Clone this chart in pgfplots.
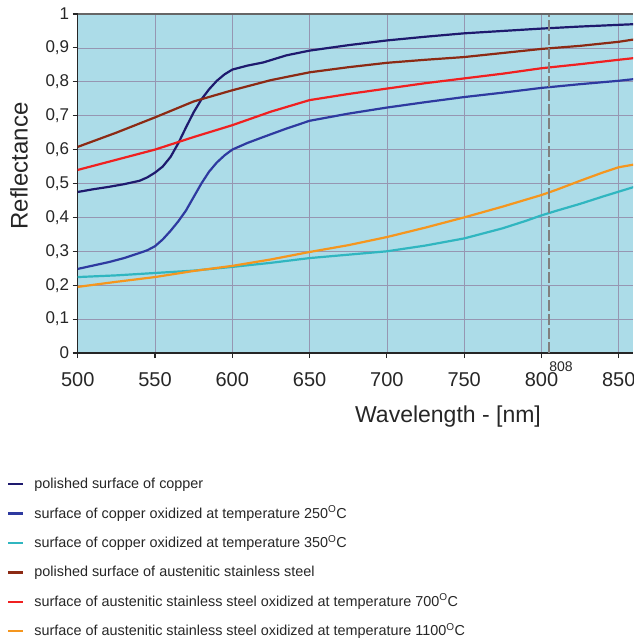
\documentclass[border=0pt]{standalone}
\usepackage{pgfplots}
\pgfplotsset{compat=1.18}
\usepackage{fontspec}
\setmainfont{Liberation Sans}
\definecolor{bgblue}{RGB}{172,220,232}
\definecolor{gridc}{RGB}{150,150,178}
\definecolor{cuA}{RGB}{30,26,110}
\definecolor{cuB}{RGB}{46,58,160}
\definecolor{cuC}{RGB}{48,182,192}
\definecolor{stA}{RGB}{140,42,20}
\definecolor{stB}{RGB}{240,32,32}
\definecolor{stC}{RGB}{245,150,30}
\begin{document}
\begin{tikzpicture}[x=1pt,y=1pt]
\useasboundingbox (0,0) rectangle (633,638);
\begin{axis}[
  at={(77.7pt,285pt)}, anchor=south west,
  width=555.3pt, height=339pt, scale only axis,
  xmin=500, xmax=859.2, ymin=0, ymax=1,
  axis background/.style={fill=bgblue},
  axis lines=left,
  axis line style={-, line width=1.4pt, black!85},
  xtick={500,550,...,850},
  ytick={0,0.1,...,1.0},
  grid=major,
  major grid style={gridc, line width=0.7pt},
  tick align=outside,
  major tick length=5pt,
  tick style={black!85, line width=1.1pt},
  /pgf/number format/assume math mode=true,
  xticklabel style={font=\fontsize{20}{20}\selectfont, yshift=-11pt, text=black!85},
  yticklabel style={font=\fontsize{17}{17}\selectfont, text=black!85,
    /pgf/number format/.cd, fixed, precision=1, use comma},
  scaled ticks=false,
  clip=true,
  legend cell align=left,
  legend image code/.code={\draw[#1,line width=2.4pt] (0pt,4.5pt) -- (15pt,4.5pt);},
  legend style={at={(rel axis cs:-0.1273,-0.3705)}, anchor=north west,
    draw=none, fill=none, inner sep=0pt, outer sep=0pt,
    font=\fontsize{14.4}{16}\selectfont, text=black!85,
    row sep=16.4pt, column sep=10pt,
    nodes={inner sep=0pt, text height=10pt, text depth=3pt, anchor=base west}},
]
\addplot[cuA, line width=2.2pt] coordinates {
(500,0.475)(510,0.483)(520,0.490)(530,0.498)(540,0.508)(545,0.518)(550,0.532)
(555,0.550)(560,0.578)(565,0.618)(570,0.665)(575,0.710)(580,0.748)(585,0.778)
(590,0.803)(595,0.822)(600,0.836)(610,0.848)(620,0.857)(635,0.878)(650,0.892)
(675,0.908)(700,0.922)(725,0.933)(750,0.943)(775,0.950)(800,0.957)(825,0.963)
(850,0.968)(860,0.970)};
\addlegendentry{polished surface of copper}
\addplot[cuB, line width=2.2pt] coordinates {
(500,0.248)(510,0.258)(520,0.268)(530,0.280)(540,0.295)(545,0.303)(550,0.315)
(555,0.335)(560,0.360)(565,0.388)(570,0.420)(575,0.460)(580,0.500)(585,0.535)
(590,0.562)(595,0.583)(600,0.600)(610,0.620)(620,0.637)(635,0.662)(650,0.685)
(675,0.706)(700,0.724)(725,0.740)(750,0.755)(775,0.768)(800,0.782)(825,0.793)
(850,0.803)(860,0.808)};
\addlegendentry{surface of copper oxidized at temperature 250\textsuperscript{O}C}
\addplot[cuC, line width=2.2pt] coordinates {
(500,0.224)(525,0.229)(550,0.236)(575,0.243)(600,0.254)(625,0.266)(650,0.280)
(675,0.290)(700,0.300)(725,0.317)(750,0.338)(775,0.368)(790,0.390)(800,0.406)
(810,0.420)(825,0.440)(840,0.462)(850,0.476)(860,0.490)};
\addlegendentry{surface of copper oxidized at temperature 350\textsuperscript{O}C}
\addplot[stA, line width=2.2pt] coordinates {
(500,0.608)(525,0.650)(550,0.695)(575,0.742)(600,0.775)(625,0.805)(650,0.828)
(675,0.843)(700,0.856)(725,0.865)(750,0.873)(775,0.885)(800,0.897)(825,0.906)
(850,0.918)(860,0.925)};
\addlegendentry{polished surface of austenitic stainless steel}
\addplot[stB, line width=2.2pt] coordinates {
(500,0.540)(525,0.570)(550,0.600)(575,0.637)(600,0.672)(625,0.712)(650,0.746)
(675,0.764)(700,0.780)(725,0.796)(750,0.810)(775,0.824)(800,0.840)(825,0.852)
(850,0.865)(860,0.870)};
\addlegendentry{surface of austenitic stainless steel oxidized at temperature 700\textsuperscript{O}C}
\addplot[stC, line width=2.2pt] coordinates {
(500,0.195)(525,0.210)(550,0.224)(575,0.242)(600,0.257)(625,0.276)(650,0.298)
(675,0.318)(700,0.342)(725,0.370)(750,0.400)(775,0.432)(800,0.466)(810,0.482)
(825,0.508)(840,0.533)(850,0.548)(860,0.556)};
\addlegendentry{surface of austenitic stainless steel oxidized at temperature 1100\textsuperscript{O}C}
\addplot[forget plot, gray, line width=2pt, dash pattern=on 11pt off 3pt] coordinates {(805,0)(805,1)};
\draw[black!60, line width=1.4pt] (rel axis cs:0,1) -- (rel axis cs:1,1);
\end{axis}
\node[font=\fontsize{14}{14}\selectfont, text=black!85] at (561,638-367) {808};
\node[font=\fontsize{23}{23}\selectfont, anchor=base, text=black!85] at (448,638-423) {Wavelength - [nm]};
\node[font=\fontsize{24}{24}\selectfont, rotate=90, text=black!85] at (19,638-166) {Reflectance};
\end{tikzpicture}
\end{document}
